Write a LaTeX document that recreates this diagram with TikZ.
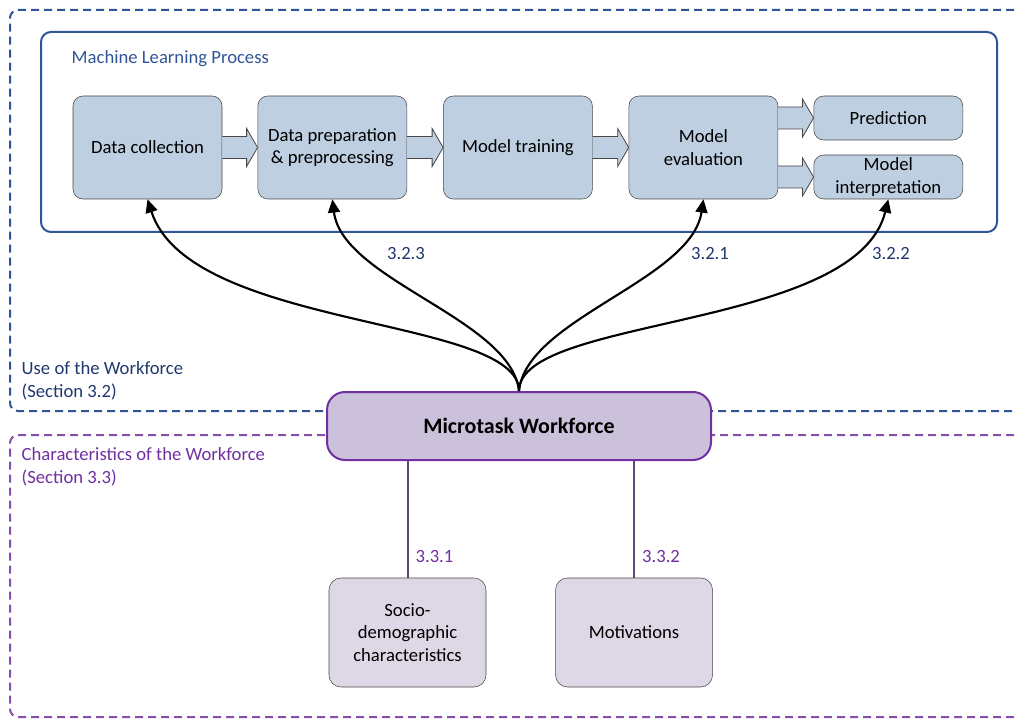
\documentclass[tikz,border=0pt]{standalone}
\usepackage{fontspec}
\setmainfont{Carlito}
\usetikzlibrary{arrows.meta,positioning,calc}

\definecolor{lineblue}{RGB}{47,85,151}
\definecolor{textblue}{RGB}{31,56,110}
\definecolor{stepfill}{RGB}{189,207,225}
\definecolor{framegray}{RGB}{70,70,70}
\definecolor{purpleline}{RGB}{112,48,160}
\definecolor{workfill}{RGB}{204,193,218}
\definecolor{subfill}{RGB}{222,216,230}
\definecolor{tieline}{RGB}{96,73,122}

% block arrow between two points (start, tip)
\newcommand{\blockarrow}[2]{%
  \filldraw[barrow] ($#1+(0,11)$) -- ($#2+(-11,11)$) -- ($#2+(-11,19)$) -- #2
    -- ($#2+(-11,-19)$) -- ($#2+(-11,-11)$) -- ($#1+(0,-11)$);}

\begin{document}
\begin{tikzpicture}[
    x=0.75pt, y=-0.75pt,
    every node/.style={font=\fontsize{14}{17}\selectfont},
    stepbox/.style={draw=framegray, fill=stepfill, rounded corners=7.5pt, inner sep=2pt,
      minimum width=111.75pt, minimum height=77.25pt, align=center},
    smallbox/.style={stepbox, minimum height=33pt},
    workbox/.style={draw=purpleline, fill=workfill, line width=1.5pt, rounded corners=13.5pt,
      minimum width=288pt, minimum height=51pt, font=\fontsize{16.5}{17}\selectfont\bfseries},
    subbox/.style={draw=framegray, fill=subfill, rounded corners=9pt, minimum width=117.75pt,
      minimum height=81.75pt, align=center},
    barrow/.style={draw=framegray, fill=stepfill, line width=0.6pt},
    usezone/.style={draw=lineblue, line width=1.5pt, dash pattern=on 6pt off 3.75pt, rounded corners=6pt},
    charzone/.style={draw=purpleline!85, line width=1.5pt, dash pattern=on 6pt off 3.75pt, rounded corners=6pt},
    link/.style={-{Triangle[length=10pt,width=9pt]}, line width=1.6pt},
    tie/.style={draw=tieline, line width=1.5pt},
    seclbl/.style={text=textblue, align=left},
  ]
  \useasboundingbox (0,0) rectangle (1017,720);
  \clip (0,0) rectangle (1017,720);

  % zones
  \draw[usezone] (1040,10) -- (10,10) -- (10,411) -- (1040,411);
  \draw[charzone] (1040,435) -- (10,435) -- (10,717) -- (1040,717);
  \draw[draw=lineblue, line width=1.5pt, rounded corners=7.5pt] (41,32) rectangle (997,232);

  \node[anchor=west, text=lineblue] (mlp) at (67,59) {Machine Learning Process};
  \node[seclbl, anchor=west] (uselbl) at (17,380.5) {Use of the Workforce\\(Section 3.2)};
  \node[seclbl, anchor=west, text=purpleline] (charlbl) at (17,466.5) {Characteristics of the Workforce\\(Section 3.3)};

  % ML process
  \node[stepbox] (dc) at (147.5,147.5) {Data collection};
  \node[stepbox, right=26.5pt of dc] (dp) {Data preparation\\\& preprocessing};
  \node[stepbox, right=27pt of dp] (mt) {Model training};
  \node[stepbox, right=27pt of mt] (me) {Model\\evaluation};
  \node[smallbox, right=26.5pt of me.north east, anchor=north west] (pr) {Prediction};
  \node[smallbox, right=26.5pt of me.south east, anchor=south west] (mi) {Model\\interpretation};

  \blockarrow{(dc.east)}{(dp.west)}
  \blockarrow{(dp.east)}{(mt.west)}
  \blockarrow{(mt.east)}{(me.west)}
  \blockarrow{(me.east |- pr.west)}{(pr.west)}
  \blockarrow{(me.east |- mi.west)}{(mi.west)}

  % workforce
  \node[workbox] (mw) at (519,426) {Microtask Workforce};
  \node[subbox] (sd) at (407.5,632.5) {Socio-\\demographic\\characteristics};
  \node[subbox, right=51.75pt of sd] (mo) {Motivations};

  \draw[link] (mw.north) .. controls +(0,-75) and +(42,131) .. (dc.south);
  \draw[link] (mw.north) .. controls +(-8,-72) and +(10,81) .. (dp.south);
  \draw[link] (mw.north) .. controls +(7,-72) and +(-12,81) .. (me.south);
  \draw[link] (mw.north) .. controls +(0,-75) and +(-32,131) .. (mi.south);

  \node[text=textblue] (l323) at (406,254) {3.2.3};
  \node[text=textblue] (l321) at (710,254) {3.2.1};
  \node[text=textblue] (l322) at (891,254) {3.2.2};

  \draw[tie] (sd.north |- mw.south) -- (sd.north)
    node[pos=0.82, right=2pt, text=purpleline] (l331) {3.3.1};
  \draw[tie] (mo.north |- mw.south) -- (mo.north)
    node[pos=0.82, right=2pt, text=purpleline] (l332) {3.3.2};
\end{tikzpicture}
\end{document}
